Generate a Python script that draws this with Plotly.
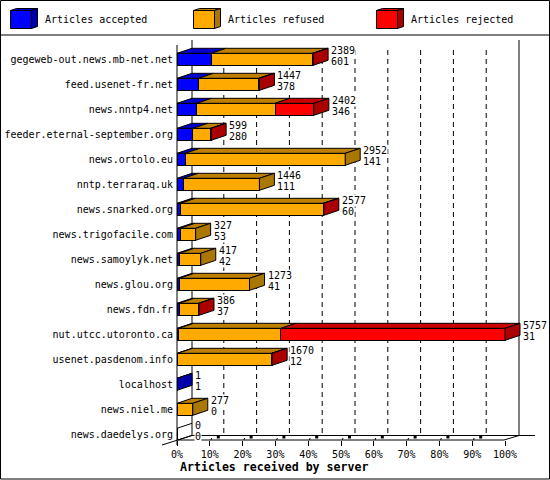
import plotly.graph_objects as go

servers = ['gegeweb-out.news.mb-net.net', 'feed.usenet-fr.net', 'news.nntp4.net',
           'feeder.eternal-september.org', 'news.ortolo.eu', 'nntp.terraraq.uk',
           'news.snarked.org', 'news.trigofacile.com', 'news.samoylyk.net', 'news.glou.org',
           'news.fdn.fr', 'nut.utcc.utoronto.ca', 'usenet.pasdenom.info', 'localhost',
           'news.niel.me', 'news.daedelys.org']
totals = [2389, 1447, 2402, 599, 2952, 1446, 2577, 327, 417, 1273, 386, 5757, 1670, 1, 277, 0]
accepted = [601, 378, 346, 280, 141, 111, 60, 53, 42, 41, 37, 31, 12, 1, 0, 0]
refused = [1780, 1057, 1374, 313, 2811, 1335, 2507, 274, 375, 1232, 344, 1794, 1650, 0, 277, 0]
rejected = [8, 12, 682, 6, 0, 0, 10, 0, 0, 0, 5, 3932, 8, 0, 0, 0]
percent_ticks = [0, 10, 20, 30, 40, 50, 60, 70, 80, 90, 100]
percent_labels = ['0%', '10%', '20%', '30%', '40%', '50%', '60%', '70%', '80%', '90%', '100%']

legend_names = ['Articles accepted', 'Articles refused', 'Articles rejected']
front_colors = ['#0000ff', '#ffaa00', '#ff0000']
top_colors = ['#0000cc', '#bf8000', '#cc0000']
side_colors = ['#0000aa', '#aa7700', '#aa0000']

FONT = 'DejaVu Sans Mono'
W, H = 550, 480
LEFT, TOP, BOTTOM = 177, 36, 440
PX_PER_PCT = 3.28
PX_PER_ROW = 25
ROW0 = 59.3

# depth of the fake 3d, in axis units
dx = 15 / PX_PER_PCT
dy = 5 / PX_PER_ROW
half = 6 / PX_PER_ROW
grid_dx = 14 / PX_PER_PCT


def to_pct(values):
    return [v / max(totals) * 100 for v in values]


# pixel -> paper, for the frame and the legend
def paper_x(p):
    return (p - LEFT) / (W - LEFT)


def paper_y(p):
    return (BOTTOM - p) / (BOTTOM - TOP)


def paper_line(x0, y0, x1, y1, width=1, color='black', layer='above'):
    return dict(type='line', xref='paper', yref='paper', x0=paper_x(x0), y0=paper_y(y0),
                x1=paper_x(x1), y1=paper_y(y1), layer=layer, line=dict(color=color, width=width))


rows = list(range(len(servers)))
fig = go.Figure()

# front faces
for name, values, color in zip(legend_names, [accepted, refused, rejected], front_colors):
    fig.add_trace(go.Bar(y=rows, x=to_pct(values), orientation='h', name=name, width=12 / PX_PER_ROW,
                         marker=dict(color=color, line=dict(color='black', width=1))))


def add_polygons(xs, ys, color):
    fig.add_trace(go.Scatter(x=xs, y=ys, mode='lines', fill='toself', fillcolor=color,
                             line=dict(color='black', width=1), hoverinfo='skip'))


# top faces, one list per colour
top_xs = [[], [], []]
top_ys = [[], [], []]
side_xs = [[], [], []]
side_ys = [[], [], []]
empty_xs = []
empty_ys = []
for i in rows:
    start = 0
    last = None
    for k, values in enumerate([accepted, refused, rejected]):
        width = to_pct(values)[i]
        if values[i] == 0:
            continue
        a, b = start, start + width
        top_xs[k] += [a, b, b + dx, a + dx, a, None]
        top_ys[k] += [i - half, i - half, i - half - dy, i - half - dy, i - half, None]
        start = b
        last = k
    if last is None:
        # empty row, only the outline of the floor and of the roof
        empty_xs += [0, dx, None, 0, dx, None]
        empty_ys += [i - half, i - half - dy, None, i + half, i + half - dy, None]
    else:
        side_xs[last] += [start, start + dx, start + dx, start, start, None]
        side_ys[last] += [i - half, i - half - dy, i + half - dy, i + half, i - half, None]

for k in range(3):
    add_polygons(top_xs[k], top_ys[k], top_colors[k])
    add_polygons(side_xs[k], side_ys[k], side_colors[k])
fig.add_trace(go.Scatter(x=empty_xs, y=empty_ys, mode='lines', line=dict(color='black', width=1), hoverinfo='skip'))

# little slanted ticks on the floor
tick_xs = []
tick_ys = []
blob_xs = []
blob_ys = []
floor = (BOTTOM - ROW0) / PX_PER_ROW
for t in percent_ticks[1:-1]:
    tick_xs += [t, t + 2 / PX_PER_PCT, None]
    tick_ys += [floor + 3 / PX_PER_ROW, floor - 2 / PX_PER_ROW, None]
    blob_xs += [t + 7 / PX_PER_PCT, t + 10 / PX_PER_PCT, None]
    blob_ys += [floor - 3 / PX_PER_ROW, floor - 3 / PX_PER_ROW, None]
fig.add_trace(go.Scatter(x=tick_xs, y=tick_ys, mode='lines', line=dict(color='black', width=1), hoverinfo='skip'))
fig.add_trace(go.Scatter(x=blob_xs, y=blob_ys, mode='lines', line=dict(color='black', width=3), hoverinfo='skip'))

shapes = []
# dashed back grid
for t in percent_ticks[1:-1]:
    shapes.append(dict(type='line', xref='x', yref='y', x0=t + grid_dx, x1=t + grid_dx,
                       y0=(50 - ROW0) / PX_PER_ROW, y1=floor - dy, layer='below',
                       line=dict(color='black', width=1, dash='5px,4px')))
# walls and floor
shapes.append(paper_line(177, 45, 177, 445, layer='below'))
shapes.append(paper_line(192, 40, 192, 435.5, layer='below'))
shapes.append(paper_line(519, 40, 519, 435.5, layer='below'))
shapes.append(paper_line(192, 435.5, 535, 435.5, layer='below'))
shapes.append(paper_line(177, 440, 504, 440, layer='below'))
shapes.append(paper_line(162, 445, 192, 435.5, layer='below'))
shapes.append(paper_line(504, 440, 519, 435.5, layer='below'))
# outer frame and legend separator
shapes.append(paper_line(0.5, 0.5, 549.5, 0.5))
shapes.append(paper_line(0.5, 479, 549.5, 479))
shapes.append(paper_line(0.5, 0.5, 0.5, 479))
shapes.append(paper_line(549.5, 0.5, 549.5, 479))
shapes.append(paper_line(0.5, 35, 549.5, 35))


def paper_path(points, fill):
    path = 'M ' + ' L '.join(f'{paper_x(a)} {paper_y(b)}' for a, b in points) + ' Z'
    return dict(type='path', xref='paper', yref='paper', path=path, fillcolor=fill,
                line=dict(color='black', width=1))


annotations = []
# legend
for x0, text_x, name, k in zip([10.5, 193.5, 376.5], [44, 227, 410], legend_names, range(3)):
    shapes.append(paper_path([(x0, 10.5), (x0 + 6, 8.5), (x0 + 27, 8.5), (x0 + 21, 10.5)], top_colors[k]))
    shapes.append(paper_path([(x0 + 21, 10.5), (x0 + 27, 8.5), (x0 + 27, 26.5), (x0 + 21, 28.5)], side_colors[k]))
    shapes.append(paper_path([(x0, 10.5), (x0 + 21, 10.5), (x0 + 21, 28.5), (x0, 28.5)], front_colors[k]))
    annotations.append(dict(xref='paper', yref='paper', x=paper_x(text_x), y=paper_y(20), text=name,
                            showarrow=False, xanchor='left', yanchor='middle', borderpad=0,
                            font=dict(family=FONT, size=10, color='black')))

# the two numbers right of each bar, on white so they hide the grid
for i in rows:
    pct = to_pct(totals)[i]
    annotations.append(dict(x=pct, y=i, text=str(totals[i]), showarrow=False, xanchor='left', yanchor='middle',
                            xshift=17, yshift=9, borderpad=0, bgcolor='white',
                            font=dict(family=FONT, size=10, color='black')))
    annotations.append(dict(x=pct, y=i, text=str(accepted[i]), showarrow=False, xanchor='left', yanchor='middle',
                            xshift=17, yshift=-2, borderpad=0, bgcolor='white',
                            font=dict(family=FONT, size=10, color='black')))

annotations.append(dict(xref='paper', yref='paper', x=paper_x(274), y=paper_y(467),
                        text='<b>Articles received by server</b>', showarrow=False,
                        xanchor='center', yanchor='middle', font=dict(family=FONT, size=11.6, color='black')))

fig.update_layout(
    width=W,
    height=H,
    autosize=False,
    barmode='stack',
    showlegend=False,
    paper_bgcolor='white',
    plot_bgcolor='white',
    margin=dict(l=LEFT, r=0, t=TOP, b=H - BOTTOM, pad=0),
    shapes=shapes,
    annotations=annotations,
    xaxis=dict(range=[0, (W - LEFT) / PX_PER_PCT], tickvals=percent_ticks, ticktext=percent_labels,
               showgrid=False, zeroline=False, showline=False, ticks='outside', ticklen=5,
               tickcolor='black', tickfont=dict(family=FONT, size=10, color='black')),
    yaxis=dict(range=[(BOTTOM - ROW0) / PX_PER_ROW, (TOP - ROW0) / PX_PER_ROW], tickvals=rows, ticktext=servers,
               showgrid=False, zeroline=False, showline=False, ticks='outside', ticklen=1,
               tickcolor='rgba(0,0,0,0)', tickfont=dict(family=FONT, size=10, color='black')),
)

# the page has a default body margin, drop it so the chart fills the window
fig.write_html("out.html", config=dict(displayModeBar=False), post_script="document.body.style.margin = '0';")
